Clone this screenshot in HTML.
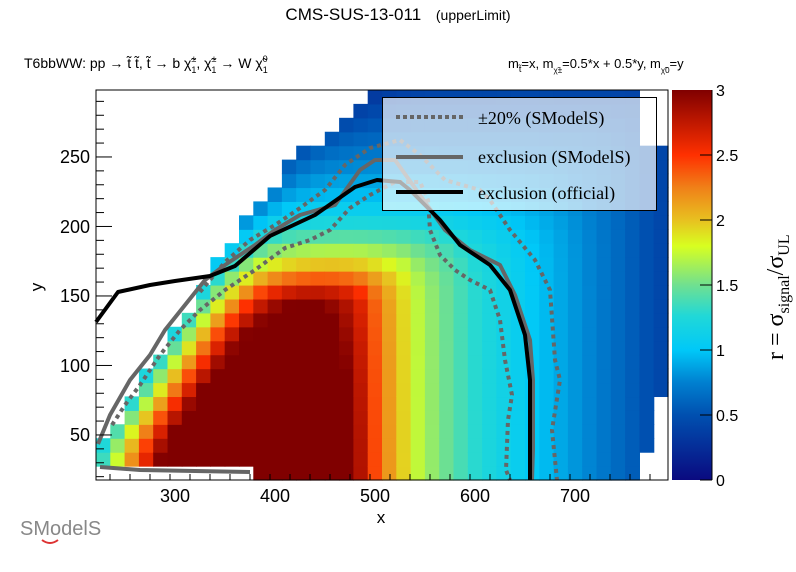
<!DOCTYPE html>
<html><head><meta charset="utf-8">
<style>
body{margin:0;background:#fff;}
svg{display:block;}
text{font-family:"Liberation Sans",sans-serif;}
.ser{font-family:"Liberation Serif",serif;}
</style></head>
<body>
<svg id="s" width="796" height="572" viewBox="0 0 796 572" xmlns="http://www.w3.org/2000/svg">
<defs>
<linearGradient id="cb" x1="0" y1="1" x2="0" y2="0">
<stop offset="0" stop-color="#0a0a80"/>
<stop offset="0.167" stop-color="#0050b0"/>
<stop offset="0.25" stop-color="#0080d0"/>
<stop offset="0.333" stop-color="#00c8f8"/>
<stop offset="0.42" stop-color="#20d8d8"/>
<stop offset="0.5" stop-color="#70e090"/>
<stop offset="0.6" stop-color="#d8ff20"/>
<stop offset="0.667" stop-color="#e8c020"/>
<stop offset="0.75" stop-color="#f08018"/>
<stop offset="0.833" stop-color="#ff3000"/>
<stop offset="1" stop-color="#800000"/>
</linearGradient>
</defs>
<g id="cells"></g>
<g fill="none" stroke-linejoin="round">
<polyline stroke="#666" stroke-width="4" stroke-dasharray="4,4" points="112,425 125,405 140,385 160,355 180,330 200,310 225,290 255,270 285,248 310,240 330,230 350,208 370,195 395,182 420,182 428,200 430,230 440,255 455,270 470,280 490,290 500,320 505,360 512,395 508,420 506,470 510,480"/>
<polyline stroke="#666" stroke-width="4" stroke-dasharray="4,4" points="200,292 225,262 250,240 275,225 300,208 325,190 345,165 370,148 400,140 420,155 445,180 480,190 490,200 510,230 535,260 550,290 555,360 560,380 552,430 557,480"/>
<polyline stroke="#666" stroke-width="4" points="98,444 110,415 130,380 150,355 165,330 185,305 205,280 225,265 255,245 275,230 300,215 335,205 360,170 375,160 395,160 420,195 445,230 470,250 500,265 515,295 530,340 533,380 533,450 532,480"/>
<polyline stroke="#666" stroke-width="4" points="100,467 140,470 250,472"/>
<polyline stroke="#000" stroke-width="4" points="96,322 118,292 150,285 175,281 210,276 235,266 270,236 315,215 355,187 377,180 400,182 410,190 440,220 460,245 490,265 510,290 525,335 530,380 530,480"/>
</g>
<rect x="96" y="90" width="572" height="390" fill="none" stroke="#000" stroke-width="1"/>
<g id="ticks" stroke="#000" stroke-width="1"></g>
<rect x="382.5" y="97.5" width="274" height="113" fill="rgba(255,255,255,0.68)" stroke="#000" stroke-width="1"/>
<line x1="396" y1="117" x2="463" y2="117" stroke="#666" stroke-width="4" stroke-dasharray="4,3"/>
<line x1="396" y1="157" x2="463" y2="157" stroke="#666" stroke-width="4"/>
<line x1="396" y1="192" x2="463" y2="192" stroke="#000" stroke-width="4"/>
<text class="ser" x="478" y="124" font-size="18">±20% (SModelS)</text>
<text class="ser" x="478" y="163" font-size="18">exclusion (SModelS)</text>
<text class="ser" x="478" y="199" font-size="18">exclusion (official)</text>
<rect x="672" y="90" width="40" height="390" fill="url(#cb)"/>
<g stroke="#000" stroke-width="1">
<line x1="700" y1="480" x2="712" y2="480"/><line x1="700" y1="415" x2="712" y2="415"/><line x1="700" y1="350" x2="712" y2="350"/><line x1="700" y1="285" x2="712" y2="285"/><line x1="700" y1="220" x2="712" y2="220"/><line x1="700" y1="155" x2="712" y2="155"/><line x1="712" y1="90" x2="712" y2="480"/>
</g>
<g class="ser" font-size="16">
<text x="716" y="486">0</text><text x="716" y="421">0.5</text><text x="716" y="356">1</text><text x="716" y="291">1.5</text><text x="716" y="226">2</text><text x="716" y="161">2.5</text><text x="716" y="96">3</text>
</g>
<text class="ser" transform="translate(783,360) rotate(-90)" font-size="24">r = σ<tspan font-size="16" dy="6">signal</tspan><tspan dy="-6">/σ</tspan><tspan font-size="16" dy="6">UL</tspan></text>
<g class="ser" font-size="18" text-anchor="middle">
<text x="175" y="502">300</text><text x="275" y="502">400</text><text x="375" y="502">500</text><text x="475" y="502">600</text><text x="575" y="502">700</text>
</g>
<g class="ser" font-size="18" text-anchor="end">
<text x="90" y="441">50</text><text x="90" y="372">100</text><text x="90" y="302">150</text><text x="90" y="233">200</text><text x="90" y="163">250</text>
</g>
<text x="381" y="523" font-size="17" text-anchor="middle">x</text>
<text transform="translate(42,287) rotate(-90)" font-size="17" text-anchor="middle">y</text>
<text x="398" y="20" font-size="17" text-anchor="middle">CMS-SUS-13-011 <tspan font-size="14" dx="10">(upperLimit)</tspan></text>
<text x="24" y="68" font-size="14">T6bbWW: pp  → t̃ t̃, t̃  → b χ̃<tspan font-size="9" dy="-6">±</tspan><tspan font-size="9" dx="-5" dy="11">1</tspan><tspan dy="-5">, χ̃</tspan><tspan font-size="9" dy="-6">±</tspan><tspan font-size="9" dx="-5" dy="11">1</tspan><tspan dy="-5"> → W χ̃</tspan><tspan font-size="9" dy="-6">0</tspan><tspan font-size="9" dx="-5" dy="11">1</tspan></text>
<text x="508" y="68" font-size="13">m<tspan font-size="9" dy="4">t̃</tspan><tspan dy="-4">=x, m</tspan><tspan font-size="8" dy="5">χ̃±</tspan><tspan dy="-5">=0.5*x + 0.5*y, m</tspan><tspan font-size="8" dy="5">χ̃0</tspan><tspan dy="-5">=y</tspan></text>
<text x="20" y="535" font-size="20" fill="#888">SModelS</text>
<path d="M42,540 q8,6 16,0" stroke="#d33" stroke-width="2" fill="none"/>
</svg>
<script>
(function(){
var NS="http://www.w3.org/2000/svg";
function interp(pts,x){if(x<=pts[0][0])return pts[0][1];for(var i=1;i<pts.length;i++){if(x<=pts[i][0]){var a=pts[i-1],b=pts[i];return a[1]+(b[1]-a[1])*(x-a[0])/(b[0]-a[0]);}}return pts[pts.length-1][1];}
var stops=[[0,[10,10,128]],[0.5,[0,80,176]],[0.75,[0,128,208]],[1,[0,200,248]],[1.25,[32,216,216]],[1.5,[112,224,144]],[1.8,[216,255,32]],[2,[232,192,32]],[2.25,[240,128,24]],[2.5,[255,48,0]],[3,[128,0,0]]];
function col(r){if(r>=3)r=3;if(r<0)r=0;for(var i=1;i<stops.length;i++){if(r<=stops[i][0]){var a=stops[i-1],b=stops[i],t=(r-a[0])/(b[0]-a[0]);var c=[0,1,2].map(function(k){return Math.round(a[1][k]+(b[1][k]-a[1][k])*t);});return "rgb("+c.join(",")+")";}}return "rgb(128,0,0)";}
var edge=[[91,382],[158,296],[255,224],[323,182],[437,108],[470,96],[480,96]];
var B=[[96,9],[340,3.3],[355,3],[380,2.3],[420,1.7],[470,1.3],[535,1.0],[600,0.72],[668,0.4]];
var C=[[90,0.4],[150,0.7],[200,1.0],[225,1.25],[240,1.5],[255,1.8],[270,2.2],[285,2.7],[300,3.3],[480,5]];
var E=[[90,0.35],[150,0.55],[230,0.9],[300,1.2],[480,1.25]];
var S=[[90,0.004],[150,0.008],[230,0.018],[330,0.03],[480,0.03]];
var g=document.getElementById("cells");
var cw=572/40,ch=13.93;
for(var i=0;i<40;i++){for(var j=0;j<28;j++){
 var x0=96+i*cw,y1=480-j*ch,y0=y1-ch,cx=x0+cw/2,cy=(y0+y1)/2;
 if(y0<90)y0=90;
 var e=interp(edge,cy);
 if(cx<e-3)continue;
 if(j==0&&cx<252)continue;
 if(cx>=654&&cy>=392)continue;
 if(cx>=639&&cy>=451)continue;
 if(cx>=639&&cy<148)continue;
 var u=Math.max(cx-e,0);var A=interp(E,cy)+interp(S,cy)*u;
 var b=interp(B,cx),c=interp(C,cy),p=5;
 var r=Math.pow(Math.pow(A,-p)+Math.pow(b,-p)+Math.pow(c,-p),-1/p);
 var rc=document.createElementNS(NS,"rect");
 rc.setAttribute("x",x0.toFixed(2));rc.setAttribute("y",y0.toFixed(2));
 rc.setAttribute("width",(cw+0.6).toFixed(2));rc.setAttribute("height",(y1-y0+0.6).toFixed(2));
 rc.setAttribute("fill",col(r));g.appendChild(rc);
}}
var t=document.getElementById("ticks");
function ln(a,b,c,d){var l=document.createElementNS(NS,"line");l.setAttribute("x1",a);l.setAttribute("y1",b);l.setAttribute("x2",c);l.setAttribute("y2",d);t.appendChild(l);}
for(var x=235;x<=795;x+=20){var px=x-125;if(px<96||px>668)continue;var maj=(x%100==0);ln(px,480,px,maj?468:474);}
for(var y=20;y<=290;y+=10){var py=480-(y-17.6)*1.39;if(py<90||py>480)continue;var maj=(y%50==0);ln(96,py,maj?112:104,py);}
})();
</script>
</body></html>
